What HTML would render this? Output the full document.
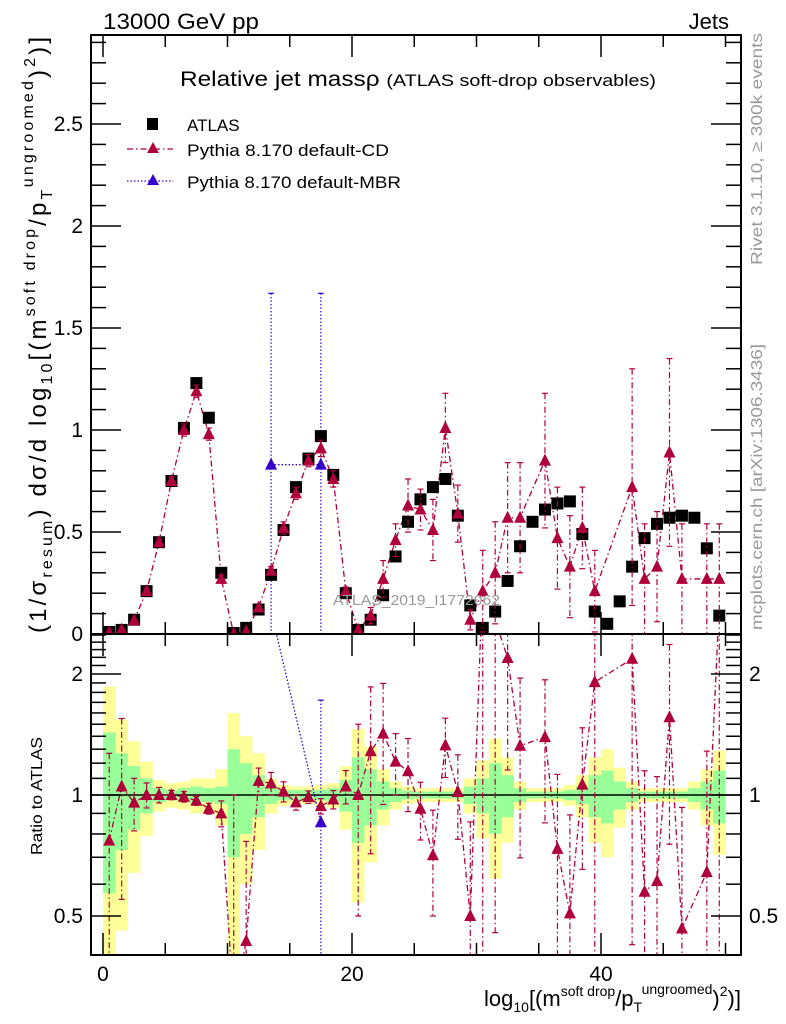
<!DOCTYPE html>
<html><head><meta charset="utf-8"><style>
html,body{margin:0;padding:0;background:#fff;width:786px;height:1024px;overflow:hidden}
svg{display:block;font-family:"Liberation Sans",sans-serif}
</style></head><body>
<svg id="chart" width="786" height="1024" viewBox="0 0 786 1024" xmlns="http://www.w3.org/2000/svg">
<defs>
<clipPath id="cm"><rect x="91" y="35" width="650" height="599"/></clipPath>
<clipPath id="cr"><rect x="91" y="634" width="650" height="321"/></clipPath>
</defs>
<g id="bands" clip-path="url(#cr)"></g>
<g id="main" clip-path="url(#cm)"></g>
<g id="ratio" clip-path="url(#cr)"></g>
<g id="axes"></g>
<text x="103" y="29" font-size="22" textLength="156" lengthAdjust="spacingAndGlyphs">13000 GeV pp</text>
<text x="729" y="29" font-size="22" text-anchor="end">Jets</text>
<text x="180" y="86" font-size="21" textLength="476" lengthAdjust="spacingAndGlyphs">Relative jet massρ <tspan font-size="17">(ATLAS soft-drop observables)</tspan></text>
<g>
<rect x="147" y="118" width="11" height="12" fill="#000"/>
<text x="187" y="131" font-size="17">ATLAS</text>
<line x1="127" y1="149" x2="173" y2="149" stroke="#b0003a" stroke-width="1.3" stroke-dasharray="6,3,1.5,3"/>
<polygon points="153,142 147,153 159,153" fill="#b0003a"/>
<text x="187" y="156" font-size="17" textLength="202" lengthAdjust="spacingAndGlyphs">Pythia 8.170 default-CD</text>
<line x1="127" y1="181" x2="173" y2="181" stroke="#3300cc" stroke-width="1.3" stroke-dasharray="1.5,2"/>
<polygon points="153,174 147,185 159,185" fill="#3300cc"/>
<text x="187" y="188" font-size="17" textLength="214" lengthAdjust="spacingAndGlyphs">Pythia 8.170 default-MBR</text>
</g>
<text x="333" y="605" font-size="15" fill="#999" textLength="167" lengthAdjust="spacingAndGlyphs">ATLAS_2019_I1772062</text>
<text transform="translate(762,265) rotate(-90)" font-size="16" fill="#999" textLength="232" lengthAdjust="spacingAndGlyphs">Rivet 3.1.10, ≥ 300k events</text>
<text transform="translate(762,630) rotate(-90)" font-size="16" fill="#999" textLength="286" lengthAdjust="spacingAndGlyphs">mcplots.cern.ch [arXiv:1306.3436]</text>
<text transform="translate(46,633) rotate(-90)" font-size="24" textLength="596" lengthAdjust="spacing">(1/σ<tspan font-size="16" dy="6">resum</tspan><tspan dy="-6">) dσ/d log</tspan><tspan font-size="16" dy="6">10</tspan><tspan dy="-6">[(m</tspan><tspan font-size="16" dy="-11">soft drop</tspan><tspan dy="11">/p</tspan><tspan font-size="16" dy="6">T</tspan><tspan font-size="16" dy="-19">ungroomed</tspan><tspan dy="13">)</tspan><tspan font-size="16" dy="-11">2</tspan><tspan dy="11">)]</tspan></text>
<text transform="translate(42,855) rotate(-90)" font-size="16" textLength="118" lengthAdjust="spacingAndGlyphs">Ratio to ATLAS</text>
<text x="741" y="1006" font-size="22" text-anchor="end">log<tspan font-size="14" dy="6">10</tspan><tspan dy="-6">[(m</tspan><tspan font-size="14" dy="-10">soft drop</tspan><tspan dy="10">/p</tspan><tspan font-size="14" dy="6">T</tspan><tspan font-size="14" dy="-18">ungroomed</tspan><tspan dy="12">)</tspan><tspan font-size="14" dy="-10">2</tspan><tspan dy="10">)]</tspan></text>
</svg>
<script>
const binCenters = Array.from({length:50},(_, i)=>i+0.5);
const atlas = [0.01,0.02,0.07,0.21,0.45,0.75,1.01,1.23,1.06,0.30,0.005,0.03,0.12,0.29,0.51,0.72,0.86,0.97,0.78,0.20,0.02,0.07,0.19,0.38,0.55,0.66,0.72,0.76,0.58,0.14,0.03,0.11,0.26,0.43,0.55,0.61,0.64,0.65,0.49,0.11,0.05,0.16,0.33,0.47,0.54,0.57,0.58,0.57,0.42,0.09];
const cd = [0.0077,0.021,0.067,0.21,0.45,0.75,1.0,1.19,0.98,0.27,0.0,0.013,0.13,0.31,0.52,0.69,0.85,0.91,0.76,0.21,0.02,0.09,0.27,0.46,0.63,0.61,0.51,1.01,0.59,0.07,0.21,0.30,0.57,0.57,null,0.85,0.47,0.33,0.52,0.21,null,null,0.72,0.27,0.33,0.89,0.27,null,0.27,0.27];
const cdErr = [0.005,0.01,0.01,0.015,0.02,0.02,0.03,0.03,0.03,0.02,0.005,0.01,0.01,0.02,0.03,0.03,0.03,0.04,0.04,0.02,0.01,0.04,0.09,0.08,0.13,0.1,0.15,0.17,0.14,0.05,0.2,0.25,0.27,0.27,0,0.33,0.25,0.25,0.2,0.2,0,0,0.58,0.27,0.27,0.46,0.27,0,0.27,0.27];
const mbrBins = [13.5,17.5];
const mbr = [0.83,0.83];
const mbrErr = [0.84,0.84];
const bandStat = [0.43,0.27,0.18,0.10,0.04,0.03,0.04,0.05,0.04,0.05,0.3,0.2,0.12,0.05,0.03,0.03,0.03,0.03,0.04,0.09,0.24,0.16,0.08,0.04,0.025,0.02,0.02,0.02,0.02,0.05,0.1,0.2,0.12,0.04,0.02,0.02,0.02,0.03,0.05,0.12,0.15,0.08,0.04,0.02,0.02,0.02,0.02,0.04,0.08,0.15];
const bandTot = [0.86,0.54,0.36,0.21,0.09,0.07,0.08,0.1,0.1,0.16,0.6,0.4,0.27,0.1,0.06,0.05,0.05,0.06,0.07,0.18,0.46,0.32,0.16,0.08,0.05,0.04,0.04,0.04,0.04,0.1,0.22,0.38,0.24,0.08,0.04,0.04,0.04,0.06,0.12,0.24,0.3,0.17,0.08,0.04,0.04,0.04,0.04,0.08,0.16,0.29];
const xTicks = [0,20,40];
const yTicks = [0,0.5,1,1.5,2,2.5];
const yTickLabels = ["0","0.5","1","1.5","2","2.5"];
const rTicks = [0.5,1,2];

const NS="http://www.w3.org/2000/svg";
const L=91,R=741,T=35,MB=634,RB=955;
const X=v=>103+v*12.45;
const Y=v=>634-v*204;
const RY=v=>795-Math.log10(v)*402;
const RED="#b0003a",BLUE="#3300cc";
function mk(par,tag,at){const e=document.createElementNS(NS,tag);for(const k in at)e.setAttribute(k,at[k]);par.appendChild(e);return e;}
const gMain=document.getElementById('main'),gRatio=document.getElementById('ratio'),gBands=document.getElementById('bands'),gAx=document.getElementById('axes');
function tri(par,x,y,c,name){const p=mk(par,'polygon',{points:`${x},${y-7} ${x-6},${y+5} ${x+6},${y+5}`,fill:c});

return p;}
function ebar(par,x,y1,y2,c,dash){mk(par,'line',{x1:x,x2:x,y1:y1,y2:y2,stroke:c,'stroke-width':1.2,'stroke-dasharray':dash});
mk(par,'line',{x1:x-3,x2:x+3,y1:y1,y2:y1,stroke:c,'stroke-width':1.2});mk(par,'line',{x1:x-3,x2:x+3,y1:y2,y2:y2,stroke:c,'stroke-width':1.2});}

for(let i=0;i<50;i++){
 const x0=X(i),x1=X(i+1);
 const a=mk(gBands,'rect',{x:x0,width:x1-x0,y:RY(1+bandTot[i]),height:RY(Math.max(1-bandTot[i],0.05))-RY(1+bandTot[i]),fill:'#ffff99'});
 
 
 const b=mk(gBands,'rect',{x:x0,width:x1-x0,y:RY(1+bandStat[i]),height:RY(1-bandStat[i])-RY(1+bandStat[i]),fill:'#99ff99'});
 
 
}
const DASH="6,3,1.5,3";
let pts=[];cd.forEach((v,i)=>{if(v!==null)pts.push(X(binCenters[i])+','+Y(v));});
const ln=mk(gMain,'polyline',{points:pts.join(' '),fill:'none',stroke:RED,'stroke-width':1.3,'stroke-dasharray':DASH});


const mp=mbrBins.map((b,i)=>X(b)+','+Y(mbr[i])).join(' ');
const ml=mk(gMain,'polyline',{points:mp,fill:'none',stroke:BLUE,'stroke-width':1.3,'stroke-dasharray':'1.5,2'});


mbrBins.forEach((b,i)=>{ebar(gMain,X(b),Y(mbr[i]+mbrErr[i]),Y(mbr[i]-mbrErr[i]),BLUE,'1.5,2');});
atlas.forEach((v,i)=>{const r=mk(gMain,'rect',{x:X(binCenters[i])-6,y:Y(v)-6,width:12,height:12,fill:'#000'});

});
cd.forEach((v,i)=>{if(v===null)return;const x=X(binCenters[i]);
 if(cdErr[i]>0.012)ebar(gMain,x,Y(v+cdErr[i]),Y(Math.max(v-cdErr[i],-0.1)),RED,DASH);
 tri(gMain,x,Y(v),RED,'cd-point');});
mbrBins.forEach((b,i)=>tri(gMain,X(b),Y(mbr[i]),BLUE,'mbr-point'));
const clampR=v=>Math.min(Math.max(v,0.3),3.5);
mk(gRatio,'line',{x1:L,x2:R,y1:RY(1),y2:RY(1),stroke:'#000','stroke-width':1.5});
let rp=[];cd.forEach((v,i)=>{if(v!==null)rp.push(X(binCenters[i])+','+RY(clampR(v/atlas[i])));});
mk(gRatio,'polyline',{points:rp.join(' '),fill:'none',stroke:RED,'stroke-width':1.3,'stroke-dasharray':DASH});
const mrp=mbrBins.map((b,i)=>X(b)+','+RY(mbr[i]/atlas[Math.floor(b)])).join(' ');
mk(gRatio,'polyline',{points:mrp,fill:'none',stroke:BLUE,'stroke-width':1.3,'stroke-dasharray':'1.5,2'});
mbrBins.forEach((b,i)=>{const a=atlas[Math.floor(b)],r=mbr[i]/a;if(r>2.5)return;
 ebar(gRatio,X(b),RY(clampR((mbr[i]+mbrErr[i])/a)),RY(clampR(Math.max(mbr[i]-mbrErr[i],0.01)/a)),BLUE,'1.5,2');
 tri(gRatio,X(b),RY(r),BLUE,'mbr-ratio-point');});
cd.forEach((v,i)=>{if(v===null)return;const x=X(binCenters[i]),a=atlas[i];
 if(cdErr[i]>0.004)ebar(gRatio,x,RY(clampR((v+cdErr[i])/a)),RY(clampR(Math.max(v-cdErr[i],0.001)/a)),RED,DASH);
 tri(gRatio,x,RY(clampR(v/a)),RED,'cd-ratio-point');});
[[T,MB],[MB,RB]].forEach(([t,b])=>{const f=mk(gAx,'rect',{x:L,y:t,width:R-L,height:b-t,fill:'none',stroke:'#000','stroke-width':2});

});
for(let v=0;v<=50;v+=5){const x=X(v),maj=v%20===0,len=maj?22:12;
 [[MB,-1],[T,1],[RB,-1],[MB,1]].forEach(([y,d])=>mk(gAx,'line',{x1:x,x2:x,y1:y,y2:y+d*len,stroke:'#000','stroke-width':1.5}));}
xTicks.forEach(v=>{const t=mk(gAx,'text',{x:X(v),y:981,'font-size':21,'text-anchor':'middle'});t.textContent=v;

});
for(let k=0;k<=29;k++){const v=k/10,y=Y(v),maj=k%5===0,len=maj?30:15;
 mk(gAx,'line',{x1:L,x2:L+len,y1:y,y2:y,stroke:'#000','stroke-width':1.5});
 mk(gAx,'line',{x1:R,x2:R-len,y1:y,y2:y,stroke:'#000','stroke-width':1.5});}
yTicks.forEach((v,i)=>{const t=mk(gAx,'text',{x:83,y:Y(v)+7,'font-size':21,'text-anchor':'end'});t.textContent=yTickLabels[i];

});
const minors=[0.4,0.5,0.6,0.7,0.8,0.9,1,1.1,1.2,1.3,1.4,1.5,1.6,1.7,1.8,1.9,2,2.1,2.2,2.3,2.4,2.5];
minors.forEach(v=>{const y=RY(v),maj=rTicks.includes(v),len=maj?30:15;
 mk(gAx,'line',{x1:L,x2:L+len,y1:y,y2:y,stroke:'#000','stroke-width':1.5});
 mk(gAx,'line',{x1:R,x2:R-len,y1:y,y2:y,stroke:'#000','stroke-width':1.5});});
rTicks.forEach(v=>{[[83,'end'],[749,'start']].forEach(([x,a])=>{const t=mk(gAx,'text',{x:x,y:RY(v)+7,'font-size':21,'text-anchor':a});t.textContent=v;

});});
</script>
</body></html>
